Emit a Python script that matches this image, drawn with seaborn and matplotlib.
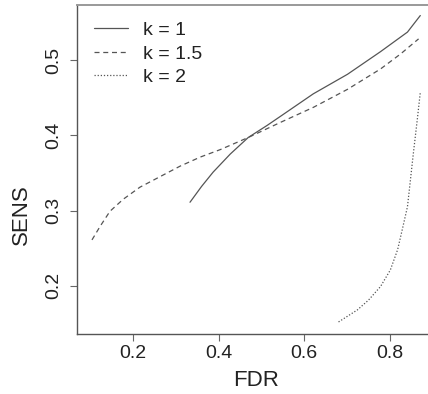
import numpy as np
import pandas as pd
import seaborn as sns
import matplotlib
matplotlib.use("Agg")
import matplotlib.pyplot as plt

# values
fdr_k1 = [0.333, 0.36, 0.387, 0.427, 0.469, 0.513, 0.544, 0.621, 0.701, 0.778, 0.841, 0.871]
sens_k1 = [0.311, 0.332, 0.351, 0.375, 0.397, 0.413, 0.425, 0.455, 0.481, 0.511, 0.537, 0.559]

fdr_k15 = [0.104, 0.123, 0.146, 0.177, 0.216, 0.263, 0.310, 0.357, 0.404, 0.469, 0.544,
           0.621, 0.701, 0.778, 0.825, 0.867]
sens_k15 = [0.261, 0.279, 0.299, 0.315, 0.331, 0.345, 0.359, 0.371, 0.381, 0.397, 0.417,
            0.437, 0.461, 0.488, 0.508, 0.528]

fdr_k2 = [0.680, 0.724, 0.750, 0.778, 0.801, 0.818, 0.829, 0.841, 0.848, 0.855, 0.864, 0.871]
sens_k2 = [0.152, 0.168, 0.181, 0.199, 0.221, 0.248, 0.275, 0.305, 0.341, 0.377, 0.421, 0.457]

labels = ["k = 1", "k = 1.5", "k = 2"]

df = pd.concat([
    pd.DataFrame({"FDR": fdr_k1, "SENS": sens_k1, "k": labels[0]}),
    pd.DataFrame({"FDR": fdr_k15, "SENS": sens_k15, "k": labels[1]}),
    pd.DataFrame({"FDR": fdr_k2, "SENS": sens_k2, "k": labels[2]}),
])

sns.set_style("white")
plt.rcParams["font.family"] = ["Liberation Sans", "DejaVu Sans"]

fig = plt.figure(figsize=(4.28, 3.94), dpi=100)
ax = fig.add_axes([77 / 428, 60 / 394, 351 / 428, 329 / 394])

gray = "#555555"
sns.lineplot(data=df, x="FDR", y="SENS", style="k", sort=False, ax=ax,
             color=gray, linewidth=0.9,
             dashes=[(None, None), (4, 3), (1, 1.5)])
for ln in ax.get_lines():
    ln.set_color(gray)

ax.set_xlim(0.069, 0.889)
ax.set_ylim(0.136, 0.573)
ax.set_xticks([0.2, 0.4, 0.6, 0.8])
ax.set_yticks([0.2, 0.3, 0.4, 0.5])
ax.set_xticklabels(["0.2", "0.4", "0.6", "0.8"])
ax.set_yticklabels(["0.2", "0.3", "0.4", "0.5"], rotation=90, va="center")

ax.tick_params(axis="both", direction="out", length=5, width=0.8, color="#666666",
               labelsize=14, labelcolor="#222222", left=True, bottom=True)
ax.tick_params(axis="x", pad=3)
ax.tick_params(axis="y", pad=5.5)

for side in ["left", "bottom"]:
    ax.spines[side].set_color("#555555")
    ax.spines[side].set_linewidth(1.0)
ax.spines["top"].set_color("#999999")
ax.spines["top"].set_linewidth(1.4)
ax.spines["right"].set_visible(False)

ax.set_xlabel("FDR", fontsize=16, color="#222222")
ax.set_ylabel("SENS", fontsize=16, color="#222222")
ax.xaxis.set_label_coords(0.51, -0.109)
ax.yaxis.set_label_coords(-0.128, 0.362)

leg = ax.legend(loc="upper left", bbox_to_anchor=(0.048, 0.95), frameon=False,
                fontsize=14, handlelength=1.75, handletextpad=0.8,
                labelspacing=0.3, borderpad=0, borderaxespad=0, title=None)
for t in leg.get_texts():
    t.set_color("#222222")
for h in leg.get_lines():
    h.set_color(gray)

fig.savefig("out.png", dpi=100)
